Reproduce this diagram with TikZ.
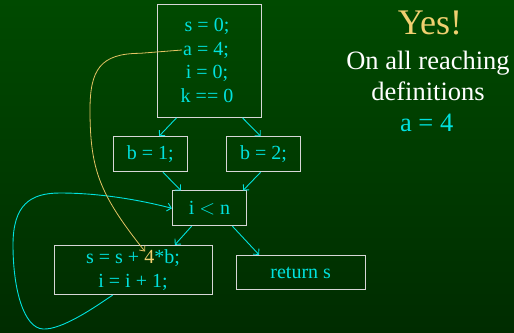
\documentclass[tikz,border=0pt]{standalone}
\usepackage{fontspec}
\setmainfont{Liberation Serif}
\usetikzlibrary{arrows.meta}

\definecolor{bgtop}{RGB}{0,74,0}
\definecolor{bgbot}{RGB}{0,44,0}
\definecolor{cyn}{RGB}{0,226,222}
\definecolor{yel}{RGB}{240,208,112}
\definecolor{yline}{RGB}{228,196,100}
\definecolor{edge}{RGB}{214,214,214}

\begin{document}
\begin{tikzpicture}[x=1pt, y=-1pt,
      blk/.style={draw=edge, line width=1pt, inner sep=0pt},
      code/.style={text=cyn, inner sep=1pt, align=center,
                   font=\fontsize{20}{23.3}\selectfont},
      flow/.style={cyn, line width=0.9pt, -{Straight Barb[length=4pt,width=8pt]}},
      note/.style={align=center, font=\fontsize{26.5}{31.5}\selectfont}]

    % background
    \shade[top color=bgtop, bottom color=bgbot] (0,0) rectangle (514,332);
    \useasboundingbox (0,0) rectangle (514,332);

    % ===== entry block =====
    \node[blk, minimum width=103.6pt, minimum height=113.3pt] (entry) at (209.5,60.7) {};
    \node[code] (s0) at (207,26) {s = 0;};
    \node[code] (a4) at (206,50) {a = 4;};
    \node[code] (i0) at (207,73) {i = 0;};
    \node[code] (k0) at (207,96) {k == 0};

    % ===== branches =====
    \node[blk, code, minimum width=74pt, minimum height=35pt] (b1) at (150.3,154.2) {b = 1;};
    \node[blk, code, minimum width=74pt, minimum height=35pt] (b2) at (263.5,154.2) {b = 2;};

    % ===== loop test, body, exit =====
    \node[blk, code, minimum width=74.3pt, minimum height=34.7pt] (cond) at (209.5,208.3) {i $<$ n};
    \node[blk, code, minimum width=158pt, minimum height=49.3pt] (body) at (133,270)
        {s = s + {\color{yel}4}*b;\\ i = i + 1;};
    \node[blk, code, minimum width=128.7pt, minimum height=34.3pt] (ret) at (300.7,272.5) {return s};
    \coordinate (four) at (145,251.5);

    % ===== edges =====
    \draw[flow] (entry.240) -- (b1.64);
    \draw[flow] (entry.300) -- (b2.99);
    \draw[flow] (b1.305) -- (cond.148);
    \draw[flow] (b2.261) -- (cond.28);
    \draw[flow] (cond.225) -- (body.31);
    \draw[flow] (cond.322) -- (ret.157);

    % back edge
    \draw[flow] (body.231) .. controls (95,307) and (62,330) .. (43,329)
        .. controls (24,328) and (13,290) .. (13,245)
        .. controls (13,205) and (30,193) .. (60,193)
        .. controls (100,193) and (140,200) .. (cond.west);

    % reaching definition of a
    \draw[yline, line width=0.8pt, -{Straight Barb[length=4pt,width=7pt]}]
        (a4.west) -- (140,53.3) .. controls (100,53.5) and (90,70) .. (90,110)
        .. controls (90,170) and (100,195) .. (four);

    % ===== answer =====
    \node[text=yel, font=\fontsize{36}{40}\selectfont] (yes) at (430,22.7) {Yes!};
    \node[note, text=white] (reach) at (428,75.8) {On all reaching\\ definitions};
    \node[note, text=cyn] (aval) at (426.7,123) {a = 4};

\end{tikzpicture}
\end{document}
